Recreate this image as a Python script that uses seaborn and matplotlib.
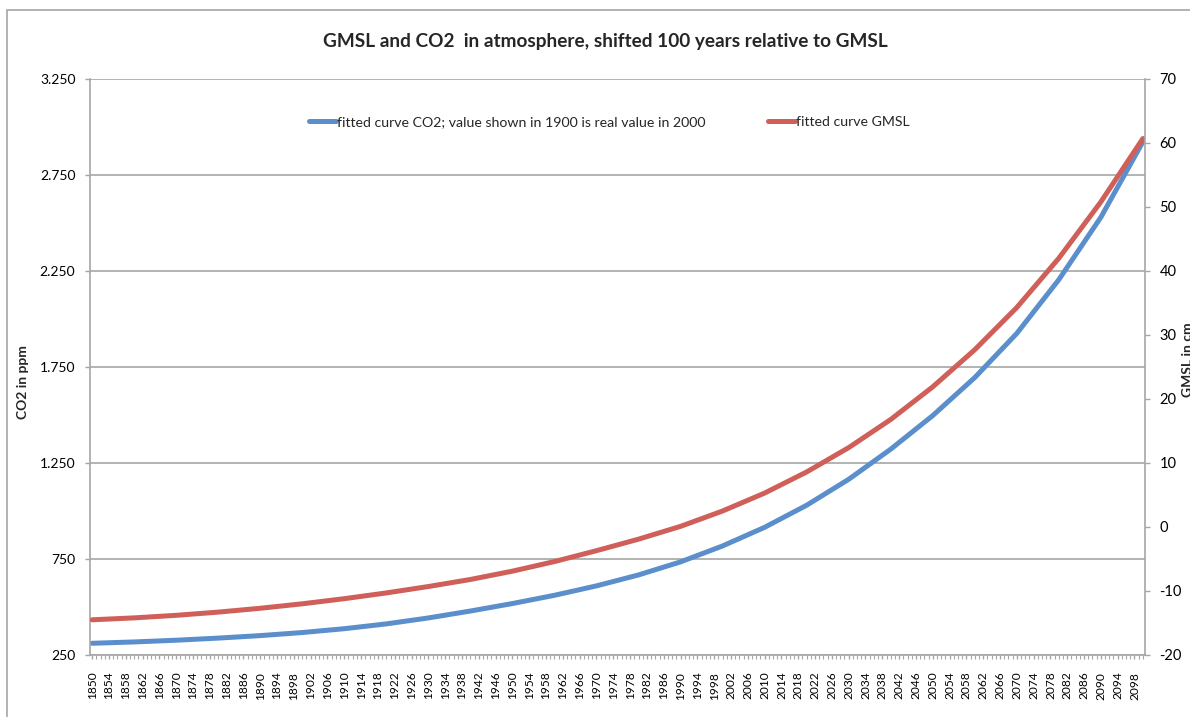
import matplotlib
matplotlib.use("Agg")
import matplotlib.pyplot as plt
from matplotlib.patches import Rectangle
from matplotlib.ticker import FixedLocator, MultipleLocator, FuncFormatter
import seaborn as sns
import pandas as pd

# Fitted curves, sampled every 10 years
years = [1850, 1860, 1870, 1880, 1890, 1900, 1910, 1920, 1930, 1940, 1950, 1960, 1970,
         1980, 1990, 2000, 2010, 2020, 2030, 2040, 2050, 2060, 2070, 2080, 2090, 2100]
co2_ppm = [311, 318, 327, 338, 351, 367, 387, 412, 443, 479, 518, 561, 610,
           667, 735, 818, 915, 1030, 1165, 1322, 1497, 1695, 1925, 2205, 2530, 2923]
gmsl_cm = [-14.5, -14.2, -13.8, -13.3, -12.7, -12.0, -11.2, -10.3, -9.3, -8.2, -6.9, -5.4, -3.7,
           -1.9, 0.1, 2.5, 5.3, 8.6, 12.4, 16.8, 21.9, 27.7, 34.3, 42.0, 50.8, 60.7]

co2_ticks = [250, 750, 1250, 1750, 2250, 2750, 3250]
gmsl_ticks = [-20, -10, 0, 10, 20, 30, 40, 50, 60, 70]
year_ticks = list(range(1850, 2099, 4))

co2_label = "fitted curve CO2; value shown in 1900 is real value in 2000"
gmsl_label = "fitted curve GMSL"
title = "GMSL and CO2  in atmosphere, shifted 100 years relative to GMSL"

df = pd.DataFrame({"year": years, "co2": co2_ppm, "gmsl": gmsl_cm})

sns.set_style("white")
plt.rcParams["font.family"] = ["Lato", "DejaVu Sans"]

GRID = "#a6a6a6"
BLUE = "#5b8fcc"
RED = "#cf5f58"

fig = plt.figure(figsize=(11.9, 7.17), dpi=100)
ax = fig.add_axes([90 / 1190, 1 - 655 / 717, (1145 - 90) / 1190, (655 - 79) / 717])
ax2 = ax.twinx()

sns.lineplot(data=df, x="year", y="co2", ax=ax, color=BLUE, linewidth=3.6,
             label=co2_label, legend=False)
sns.lineplot(data=df, x="year", y="gmsl", ax=ax2, color=RED, linewidth=3.6,
             label=gmsl_label, legend=False)

ax.set_xlim(1849.5, 2100.5)
ax.set_ylim(co2_ticks[0], co2_ticks[-1])
ax2.set_ylim(gmsl_ticks[0], gmsl_ticks[-1])

ax.yaxis.set_major_locator(FixedLocator(co2_ticks))
ax.yaxis.set_major_formatter(FuncFormatter(lambda v, p: f"{v:,.0f}".replace(",", ".")))
ax2.yaxis.set_major_locator(FixedLocator(gmsl_ticks))
ax2.yaxis.set_major_formatter(FuncFormatter(lambda v, p: f"{v:.0f}"))

ax.xaxis.set_major_locator(FixedLocator(year_ticks))
ax.xaxis.set_minor_locator(MultipleLocator(1))
ax.xaxis.set_major_formatter(FuncFormatter(lambda v, p: f"{v:.0f}"))

ax.grid(axis="y", color=GRID, linewidth=1.2)
ax.set_axisbelow(True)
for a in (ax, ax2):
    for s in a.spines.values():
        s.set_color(GRID)
        s.set_linewidth(1.2)
    a.spines["top"].set_visible(False)
ax.spines["right"].set_visible(False)
ax2.spines["left"].set_visible(False)
ax2.spines["bottom"].set_visible(False)

ax.tick_params(axis="y", which="major", direction="out", length=3.5, width=1, color=GRID,
               labelsize=10, pad=7, labelcolor="#000000", left=True)
ax2.tick_params(axis="y", which="major", direction="out", length=3.5, width=1, color=GRID,
                labelsize=10.5, pad=7, labelcolor="#000000", right=True)
ax.tick_params(axis="x", which="major", direction="out", length=3, width=1, color=GRID,
               labelsize=8.6, pad=9, labelrotation=90, labelcolor="#000000", bottom=True)
ax.tick_params(axis="x", which="minor", direction="out", length=3, width=0.8, color=GRID,
               bottom=True)

ax.set_xlabel("")
ax.set_ylabel("")
ax2.set_ylabel("")

fig.text(23 / 1190, 1 - 382 / 717, "CO2 in ppm", rotation=90, ha="center", va="center",
         fontsize=10, fontweight="bold")
fig.text(1188 / 1190, 1 - 360 / 717, "GMSL in cm", rotation=90, ha="center", va="center",
         fontsize=10, fontweight="bold")
fig.text(605 / 1190, 1 - 41 / 717, title, ha="center", va="center",
         fontsize=13.7, fontweight="bold")

h1, l1 = ax.get_legend_handles_labels()
h2, l2 = ax2.get_legend_handles_labels()
fig.legend(h1 + h2, l1 + l2, loc="center left", bbox_to_anchor=(309 / 1190, 1 - 122 / 717),
           ncol=2, frameon=False, fontsize=10.2, handlelength=1.9, handletextpad=0.1,
           columnspacing=4.4, borderpad=0, borderaxespad=0)

# chart area border
fig.patches.append(Rectangle((7 / 1190, -0.05), 1.1, 1.05 - 10 / 717,
                             transform=fig.transFigure, fill=False, edgecolor=GRID,
                             linewidth=1.2, zorder=0))

fig.savefig("out.png", dpi=100, facecolor="white")
